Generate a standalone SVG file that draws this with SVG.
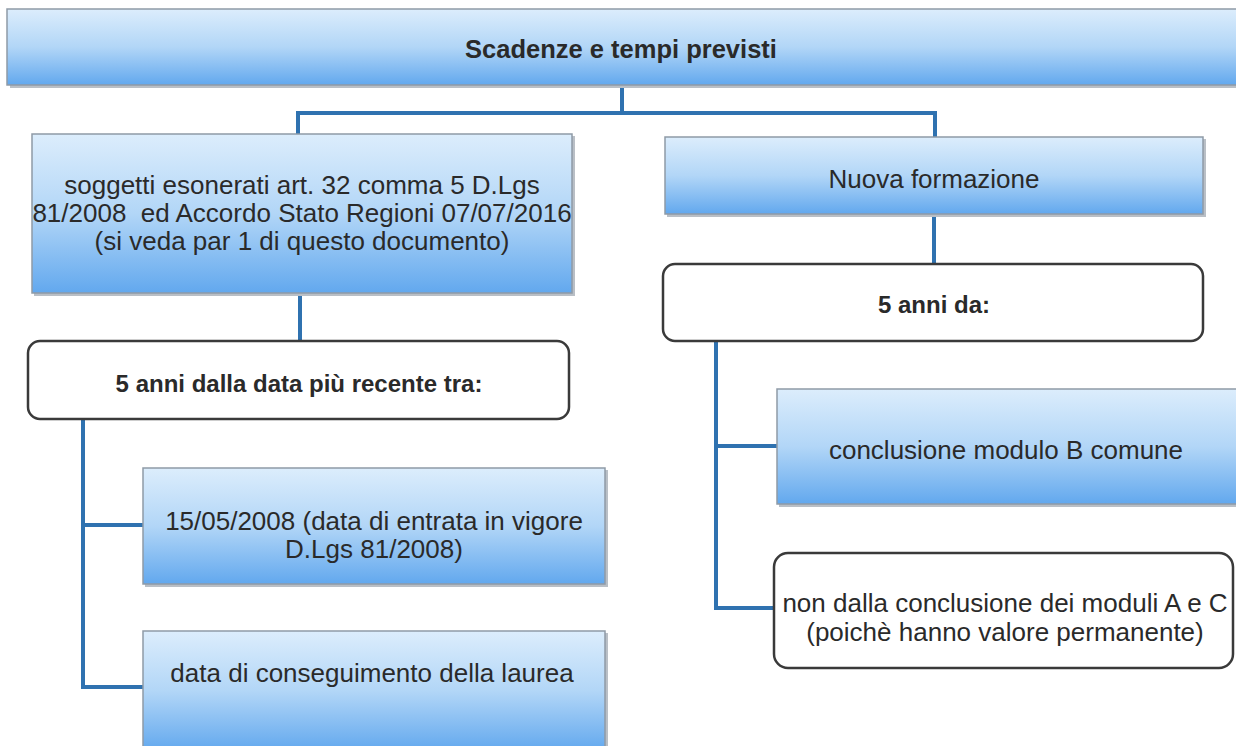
<svg xmlns="http://www.w3.org/2000/svg" width="1236" height="746" viewBox="0 0 1236 746">
<defs>
<linearGradient id="blue" x1="0" y1="0" x2="0" y2="1">
<stop offset="0" stop-color="#dcedfc"/>
<stop offset="0.5" stop-color="#b2d6f7"/>
<stop offset="1" stop-color="#62a8ee"/>
</linearGradient>
<style>
.bx{fill:url(#blue);stroke:#8f9aa6;stroke-width:1.5}
.sh{fill:#b9bfc6}
.wb{fill:#ffffff;stroke:#3a3a3a;stroke-width:2.5}
.t{font-family:"Liberation Sans",Arial,sans-serif;font-size:26px;fill:#2a2a2a;text-anchor:middle}
.b{font-weight:bold;font-size:24px}
.c{fill:none;stroke:#2f72b0;stroke-width:4;stroke-linejoin:miter}
</style>
</defs>
<rect width="1236" height="746" fill="#ffffff"/>
<g id="connectors">
<path class="c" d="M622 85 V113 M298 113 H935 M298 111 V135 M935 111 V140"/>
<path class="c" d="M300 294 V341"/>
<path class="c" d="M934 216 V264"/>
<path class="c" d="M83 419 V687 M81 525 H145 M81 687 H145"/>
<path class="c" d="M716 341 V608 M714 446 H779 M714 608 H775"/>
</g>
<g id="n-title">
<rect class="sh" x="10" y="12" width="1230" height="76"/>
<rect class="bx" x="7" y="9" width="1235" height="76"/>
<text class="t b" x="621" y="58" style="font-size:25.5px">Scadenze e tempi previsti</text>
</g>
<g id="n-esonerati">
<rect class="sh" x="34" y="136" width="541" height="160"/>
<rect class="bx" x="32" y="134" width="540" height="159"/>
<text class="t" x="302" y="194">soggetti esonerati art. 32 comma 5 D.Lgs</text>
<text class="t" x="302" y="222" xml:space="preserve">81/2008  ed Accordo Stato Regioni 07/07/2016</text>
<text class="t" x="302" y="250">(si veda par 1 di questo documento)</text>
</g>
<g id="n-nuova">
<rect class="sh" x="667" y="139" width="539" height="78"/>
<rect class="bx" x="665" y="137" width="538" height="77"/>
<text class="t" x="934" y="188">Nuova formazione</text>
</g>
<g id="n-5anni-recente">
<rect class="wb" x="28" y="341" width="541" height="78" rx="12"/>
<text class="t b" x="299" y="392">5 anni dalla data più recente tra:</text>
</g>
<g id="n-5anni-da">
<rect class="wb" x="663" y="264" width="540" height="77" rx="12"/>
<text class="t b" x="934" y="313">5 anni da:</text>
</g>
<g id="n-15-05-2008">
<rect class="sh" x="145" y="470" width="463" height="117"/>
<rect class="bx" x="143" y="468" width="462" height="116"/>
<text class="t" x="374" y="530">15/05/2008 (data di entrata in vigore</text>
<text class="t" x="374" y="558">D.Lgs 81/2008)</text>
</g>
<g id="n-laurea">
<rect class="sh" x="145" y="633" width="463" height="120"/>
<rect class="bx" x="143" y="631" width="462" height="120"/>
<text class="t" x="372" y="682">data di conseguimento della laurea</text>
</g>
<g id="n-moduloB">
<rect class="sh" x="779" y="391" width="470" height="116"/>
<rect class="bx" x="777" y="389" width="470" height="115"/>
<text class="t" x="1006" y="459">conclusione modulo B comune</text>
</g>
<g id="n-moduliAC">
<rect class="wb" x="774" y="553" width="459" height="115" rx="14"/>
<text class="t" x="1005" y="612">non dalla conclusione dei moduli A e C</text>
<text class="t" x="1005" y="641">(poichè hanno valore permanente)</text>
</g>
</svg>
